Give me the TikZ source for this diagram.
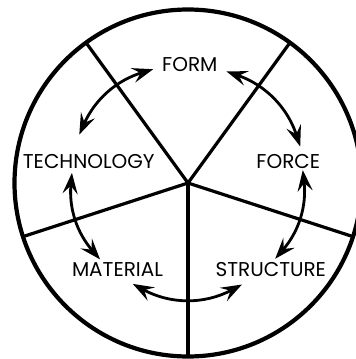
\documentclass[tikz,border=0pt]{standalone}
\usepackage{fontspec}
\setmainfont{Poppins}
\usetikzlibrary{arrows.meta}

\begin{document}
\begin{tikzpicture}[x=1pt, y=1pt,
    every node/.style={font=\fontsize{20}{22}\selectfont, inner sep=0pt},
    rim/.style={line width=4.2pt},
    spoke/.style={line width=3.2pt},
    link/.style={line width=2.8pt, {Stealth[length=21pt,width=15pt,inset=8pt]}-{Stealth[length=21pt,width=15pt,inset=8pt]}}]
    \useasboundingbox (-188,-176) rectangle (168,183);
    \clip (-188,-176) rectangle (168,183);
    \coordinate (hub) at (0,0);
    \draw[rim] (hub) circle[radius=173.5];
    \foreach \a in {54,126,198,270,342} {
        \coordinate (rim\a) at (\a:173.5);
        \draw[spoke] (hub) -- (rim\a);
    }
    % the five labels
    \node (form) at (1.8,118) {FORM};
    \node (force) at (100.3,21.8) {FORCE};
    \node (structure) at (82.8,-87) {STRUCTURE};
    \node (material) at (-70.5,-87) {MATERIAL};
    \node (technology) at (-99.2,21.8) {TECHNOLOGY};
    % curved arrows round the hub
    \foreach \s/\e/\r/\b [count=\i] in {156/107/119/24.5, 71/18/118/26.5, 6.4/-41/115.5/23.7, -62/-118.7/115/28.4, 221/175/116.5/23} {
        \coordinate (l\i a) at (\s:\r);
        \coordinate (l\i b) at (\e:\r);
        \draw[link] (l\i a) to[bend left=\b] (l\i b);
    }
\end{tikzpicture}
\end{document}
